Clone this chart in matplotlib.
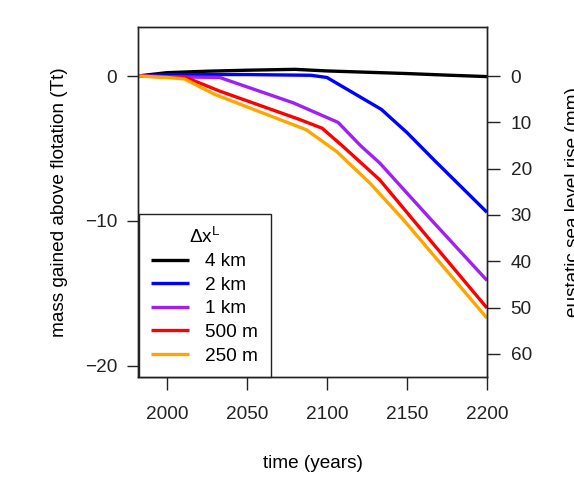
import numpy as np
import matplotlib
matplotlib.use("Agg")
import matplotlib.pyplot as plt

plt.rcParams["font.family"] = ["Liberation Sans", "DejaVu Sans"]
plt.rcParams["mathtext.fontset"] = "custom"
plt.rcParams["mathtext.rm"] = "Liberation Sans"
plt.rcParams["font.size"] = 13.7

# mass above flotation (Tt) vs year, one series per resolution
yr_4km = [1982, 2000, 2025, 2050, 2080, 2100, 2125, 2150, 2175, 2200]
tt_4km = [0.0, 0.23, 0.33, 0.40, 0.46, 0.35, 0.26, 0.17, 0.06, -0.04]

yr_2km = [1982, 2000, 2050, 2090, 2100, 2134, 2150, 2167, 2200]
tt_2km = [0.0, 0.1, 0.1, 0.05, -0.1, -2.3, -3.9, -5.8, -9.4]

yr_1km = [1982, 2000, 2033, 2079, 2107, 2121, 2133, 2165, 2200]
tt_1km = [0.0, -0.05, -0.1, -1.85, -3.2, -4.8, -6.0, -9.9, -14.1]

yr_500m = [1982, 2000, 2012, 2033, 2083, 2097, 2110, 2133, 2154, 2200]
tt_500m = [0.0, -0.05, -0.1, -1.04, -3.0, -3.6, -4.85, -7.16, -9.94, -16.0]

yr_250m = [1982, 2000, 2011, 2030, 2087, 2106, 2127, 2148, 2200]
tt_250m = [0.0, -0.1, -0.2, -1.27, -3.7, -5.2, -7.4, -9.94, -16.7]

labels = ["4 km", "2 km", "1 km", "500 m", "250 m"]
colors = ["black", "#0000FF", "#A020F0", "#FF0000", "#FFA500"]

MM_PER_TT = 3.13  # right axis scale (mm of sea level per Tt lost)

fig = plt.figure(figsize=(5.74, 4.78), dpi=100)
ax = fig.add_axes([0.2404, 0.2113, 0.608, 0.7322])

series = [(yr_4km, tt_4km), (yr_2km, tt_2km), (yr_1km, tt_1km),
          (yr_500m, tt_500m), (yr_250m, tt_250m)]
for (x, y), lab, c in zip(series, labels, colors):
    ax.plot(x, y, color=c, lw=2.4, label=lab, solid_capstyle="butt")

ax.set_xlim(1982, 2200)
ylo, yhi = -20.76, 3.38
ax.set_ylim(ylo, yhi)
ax.set_xticks([2000, 2050, 2100, 2150, 2200])
ax.set_yticks([0, -10, -20])
ax.set_yticklabels(["0", "\u221210", "\u221220"])
ax.tick_params(axis="x", length=9, width=1, pad=12, colors="#222")
ax.tick_params(axis="y", length=8, width=1, pad=7, colors="#222")
for s in ax.spines.values():
    s.set_linewidth(1.0)
    s.set_color("#222")

ax.set_xlabel("time (years)", labelpad=23)
ax.set_ylabel("mass gained above flotation (Tt)", labelpad=12)

ax2 = ax.twinx()
ax2.set_ylim(-ylo * MM_PER_TT, -yhi * MM_PER_TT)
ax2.set_yticks(np.arange(0, 61, 10))
ax2.tick_params(axis="y", length=9, width=1, pad=8, colors="#222")
# the reference crops this label at the right edge
ax2.set_ylabel("eustatic sea level rise (mm)", labelpad=24)
for s in ax2.spines.values():
    s.set_linewidth(1.0)
    s.set_color("#222")

leg = ax.legend(loc="lower left", bbox_to_anchor=(0.002, 0.0), borderaxespad=0,
                title=r"$\mathregular{\Delta x^{L}}$", fancybox=False,
                edgecolor="#222", framealpha=1, handlelength=2.0,
                handletextpad=0.85, labelspacing=0.33, borderpad=0.65)
leg.get_frame().set_linewidth(1.0)
leg.get_title().set_fontsize(13.7)

fig.savefig("out.png", dpi=100)
